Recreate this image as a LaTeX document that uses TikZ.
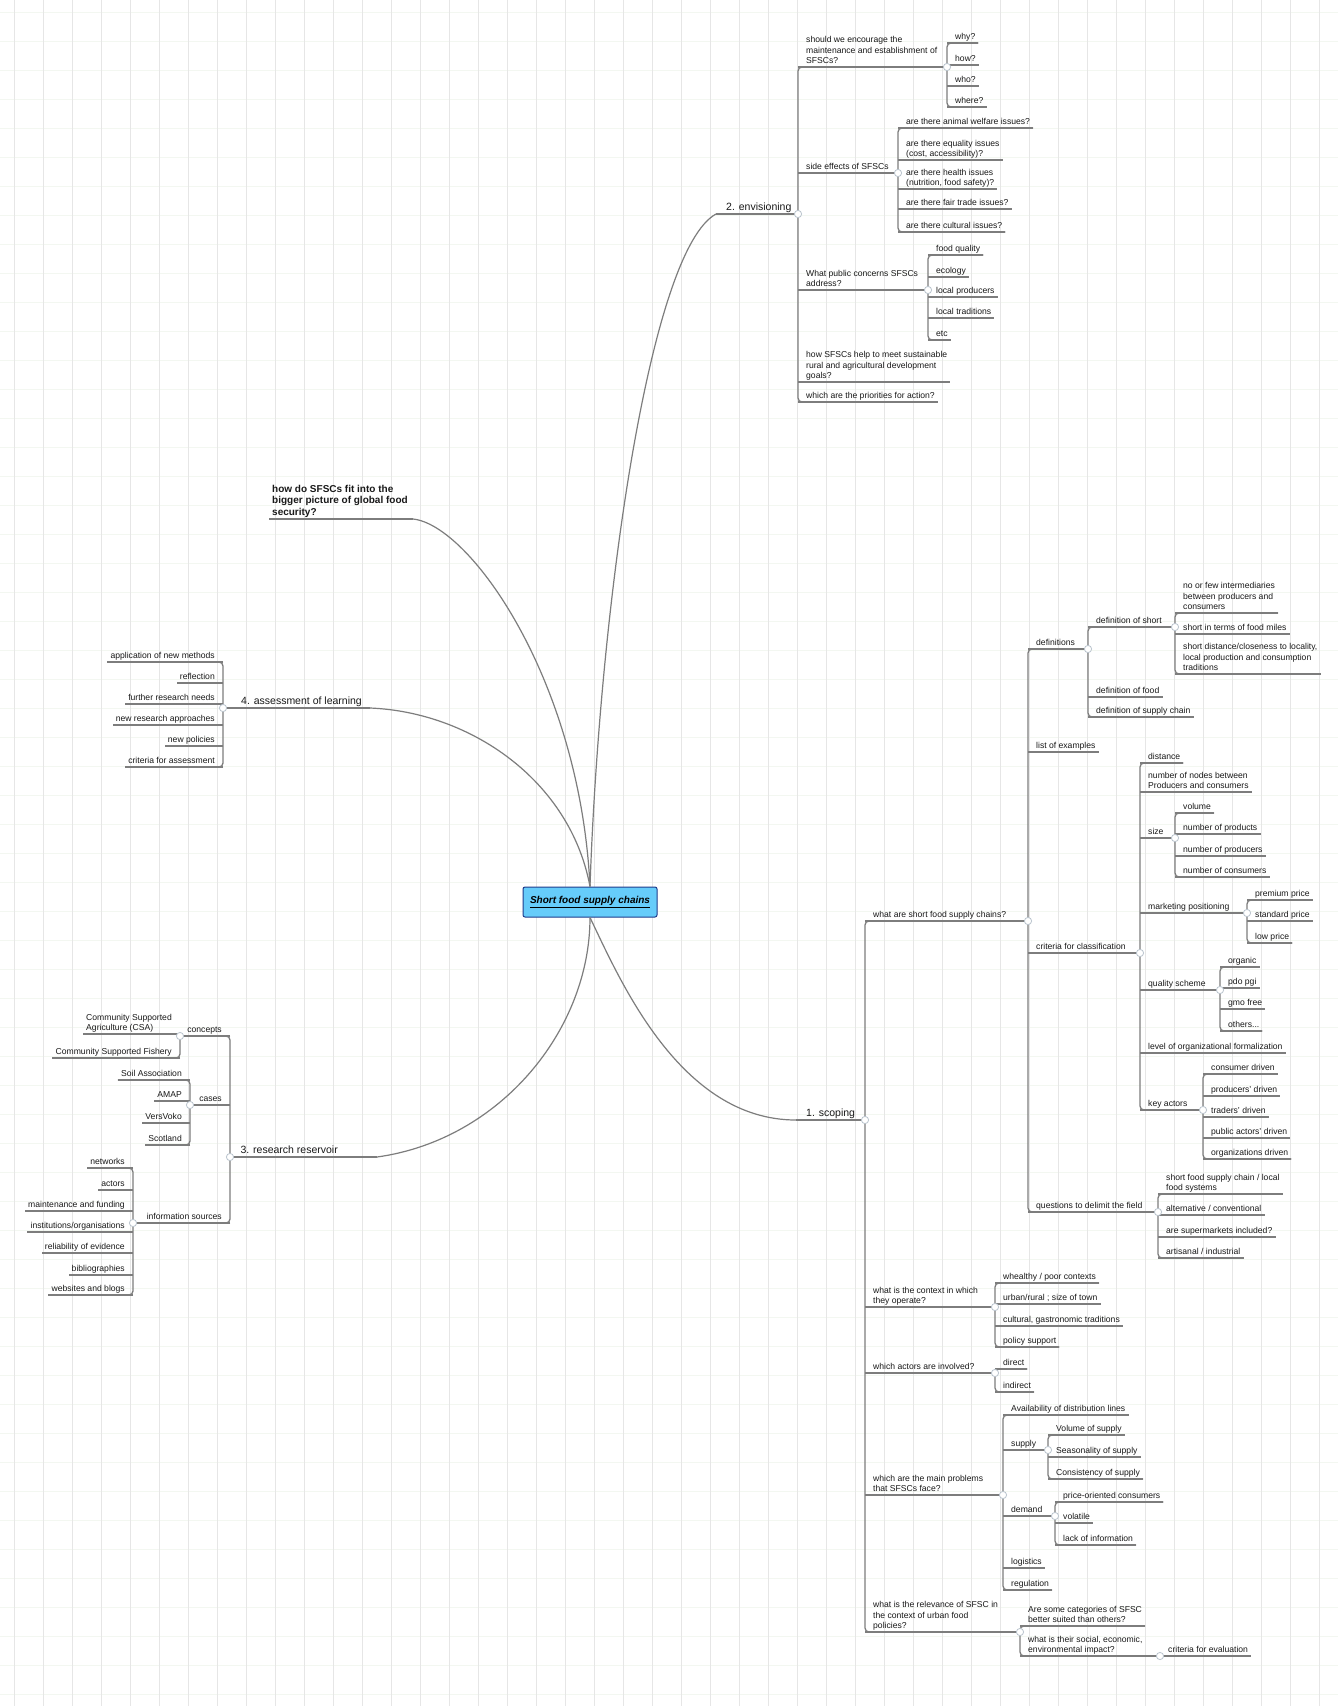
\documentclass[tikz,border=0pt]{standalone}
\usepackage{fontspec}
\setmainfont{Liberation Sans}
\definecolor{ln}{RGB}{125,125,125}
\definecolor{gridv}{RGB}{230,230,230}
\definecolor{gridh}{RGB}{243,247,241}
\definecolor{rootfill}{RGB}{102,204,250}
\definecolor{rootdraw}{RGB}{30,60,140}
\definecolor{mkc}{RGB}{185,195,205}
\tikzset{
 tx/.style={inner xsep=3pt, inner ysep=1pt, text depth=2.2pt, font=\fontsize{8.6}{10.4}\selectfont, text=black!90},
 rt/.style={tx, anchor=south west, xshift=5pt, align=left},
 lt/.style={tx, anchor=south east, xshift=-5pt, align=right},
 mainr/.style={anchor=south west, inner xsep=3pt, inner ysep=1pt, text depth=2.6pt, font=\fontsize{10.5}{12.5}\selectfont, text=black!90},
 mainl/.style={mainr, anchor=south east},
 bigq/.style={anchor=south west, inner xsep=3pt, inner ysep=1pt, text depth=2.6pt, align=left, font=\fontsize{10}{11.6}\selectfont\bfseries, text=black!90},
 ul/.style={draw=ln, line width=1.3pt},
 mc/.style={draw=ln, line width=1.2pt},
 mk/.style={draw=mkc, fill=white, line width=0.8pt},
 vgrid/.style={draw=gridv, line width=0.8pt},
 hgrid/.style={draw=gridh, line width=0.8pt},
 rootbox/.style={draw=rootdraw, fill=rootfill, rounded corners=2pt, line width=1pt, minimum width=134pt, minimum height=30pt, font=\fontsize{10}{12}\selectfont\bfseries\itshape, text=black}
}
\newcommand\RN[4]{\node[rt] (#1) at (#2,#3) {#4}; \coordinate (#1-a) at (#2,#3);}
\newcommand\LN[4]{\node[lt] (#1) at (#2,#3) {#4}; \coordinate (#1-a) at (#2,#3);}
\newcommand\famR[5]{%
  \coordinate (#1-tx) at (#2,0);
  \coordinate (#1-r) at (#1-a -| #1-tx);
  \draw[ul] (#1-a) -- (#1-r);
  \draw[ul,rounded corners=4pt] (#3.south east) -- (#3-a) -- (#4-a) -- (#4.south east);
  \foreach \ch in {#5}{\draw[ul] (\ch-a) -- (\ch.south east);}
  \draw[mk] (#1-r) circle[radius=3.6];
}
\newcommand\famL[5]{%
  \coordinate (#1-tx) at (#2,0);
  \coordinate (#1-r) at (#1-a -| #1-tx);
  \draw[ul] (#1-a) -- (#1-r);
  \draw[ul,rounded corners=4pt] (#3.south west) -- (#3-a) -- (#4-a) -- (#4.south west);
  \foreach \ch in {#5}{\draw[ul] (\ch-a) -- (\ch.south west);}
  \draw[mk] (#1-r) circle[radius=3.6];
}
\begin{document}
\begin{tikzpicture}[x=1pt,y=-1pt]
\useasboundingbox (0,0) rectangle (1338,1706);
\fill[white] (0,0) rectangle (1338,1706);
\foreach \i in {0,...,58} {\draw[hgrid] (0,{12+29*\i}) -- (1338,{12+29*\i});}
\foreach \i in {0,...,46} {\draw[vgrid] ({14+29*\i},0) -- ({14+29*\i},1706);}

% root
\node[rootbox] (root) at (590,902) {\underline{Short food supply chains}};

% main topics
\node[mainr] (env) at (723,214) {2. envisioning}; \coordinate (env-a) at (716,214);
\node[mainr] (scp) at (803,1120) {1. scoping}; \coordinate (scp-a) at (796,1120);
\node[mainl] (ass) at (365,708) {4. assessment of learning}; \coordinate (ass-a) at (370,708);
\node[mainl] (res) at (341,1157) {3. research reservoir}; \coordinate (res-a) at (377,1157);
\node[bigq] (big) at (269,519) {how do SFSCs fit into the\\bigger picture of global food\\security?}; \coordinate (big-a) at (413,519);
\draw[ul] (big-a) -- (big.south west);

\draw[mc] (root.north) .. controls (600,600) and (650,250) .. (env-a);
\draw[mc] (root.north) .. controls (580,680) and (470,525) .. (big-a);
\draw[mc] (root.north) .. controls (570,780) and (470,712) .. (ass-a);
\draw[mc] (root.south) .. controls (590,1030) and (500,1140) .. (res-a);
\draw[mc] (root.south) .. controls (620,980) and (680,1120) .. (scp-a);

% envisioning
\RN{enc}{798}{67}{should we encourage the\\maintenance and establishment of\\SFSCs?}
\RN{why}{947}{43}{why?}
\RN{hw}{947}{65}{how?}
\RN{who}{947}{86}{who?}
\RN{whr}{947}{107}{where?}
\RN{side}{798}{173}{side effects of SFSCs}
\RN{aw}{898}{128}{are there animal welfare issues?}
\RN{eq}{898}{160}{are there equality issues\\(cost, accessibility)?}
\RN{hl}{898}{189}{are there health issues\\(nutrition, food safety)?}
\RN{ft}{898}{209}{are there fair trade issues?}
\RN{cu}{898}{232}{are there cultural issues?}
\RN{pub}{798}{290}{What public concerns SFSCs\\address?}
\RN{fq}{928}{255}{food quality}
\RN{eco}{928}{277}{ecology}
\RN{lp}{928}{297}{local producers}
\RN{ltr}{928}{318}{local traditions}
\RN{etc}{928}{340}{etc}
\RN{sus}{798}{382}{how SFSCs help to meet sustainable\\rural and agricultural development\\goals?}
\RN{pri}{798}{402}{which are the priorities for action?}

% scoping
\RN{wsf}{865}{921}{what are short food supply chains?}
\RN{defs}{1028}{649}{definitions}
\RN{dshort}{1088}{627}{definition of short}
\RN{dsa}{1175}{613}{no or few intermediaries\\between producers and\\consumers}
\RN{dsb}{1175}{634}{short in terms of food miles}
\RN{dsc}{1175}{674}{short distance/closeness to locality,\\local production and consumption\\traditions}
\RN{dfood}{1088}{697}{definition of food}
\RN{dsup}{1088}{717}{definition of supply chain}
\RN{loe}{1028}{752}{list of examples}
\RN{crit}{1028}{953}{criteria for classification}
\RN{dist}{1140}{763}{distance}
\RN{nnod}{1140}{792}{number of nodes between\\Producers and consumers}
\RN{size}{1140}{838}{size}
\RN{vol}{1175}{813}{volume}
\RN{nprod}{1175}{834}{number of products}
\RN{nprc}{1175}{856}{number of producers}
\RN{ncon}{1175}{877}{number of consumers}
\RN{mkt}{1140}{913}{marketing positioning}
\RN{prem}{1247}{900}{premium price}
\RN{std}{1247}{921}{standard price}
\RN{low}{1247}{943}{low price}
\RN{qual}{1140}{990}{quality scheme}
\RN{org}{1220}{967}{organic}
\RN{pdo}{1220}{988}{pdo pgi}
\RN{gmo}{1220}{1009}{gmo free}
\RN{oth}{1220}{1031}{others...}
\RN{lvl}{1140}{1053}{level of organizational formalization}
\RN{key}{1140}{1110}{key actors}
\RN{cdr}{1203}{1074}{consumer driven}
\RN{pdr}{1203}{1096}{producers' driven}
\RN{tdr}{1203}{1117}{traders' driven}
\RN{pad}{1203}{1138}{public actors' driven}
\RN{odr}{1203}{1159}{organizations driven}
\RN{qdf}{1028}{1212}{questions to delimit the field}
\RN{qa}{1158}{1194}{short food supply chain / local\\food systems}
\RN{qb}{1158}{1215}{alternative / conventional}
\RN{qc}{1158}{1237}{are supermarkets included?}
\RN{qd}{1158}{1258}{artisanal / industrial}
\RN{ctx}{865}{1307}{what is the context in which\\they operate?}
\RN{wp}{995}{1283}{whealthy / poor contexts}
\RN{ur}{995}{1304}{urban/rural ; size of town}
\RN{cg}{995}{1326}{cultural, gastronomic traditions}
\RN{ps}{995}{1347}{policy support}
\RN{act}{865}{1373}{which actors are involved?}
\RN{dir}{995}{1369}{direct}
\RN{ind}{995}{1392}{indirect}
\RN{prob}{865}{1495}{which are the main problems\\that SFSCs face?}
\RN{avl}{1003}{1415}{Availability of distribution lines}
\RN{sup}{1003}{1450}{supply}
\RN{vs}{1048}{1435}{Volume of supply}
\RN{ss}{1048}{1457}{Seasonality of supply}
\RN{cs}{1048}{1479}{Consistency of supply}
\RN{dem}{1003}{1516}{demand}
\RN{poc}{1055}{1502}{price-oriented consumers}
\RN{vlt}{1055}{1523}{volatile}
\RN{loi}{1055}{1545}{lack of information}
\RN{logi}{1003}{1568}{logistics}
\RN{regu}{1003}{1590}{regulation}
\RN{rel}{865}{1632}{what is the relevance of SFSC in\\the context of urban food\\policies?}
\RN{cat}{1020}{1626}{Are some categories of SFSC\\better suited than others?}
\RN{imp}{1020}{1656}{what is their social, economic,\\environmental impact?}
\RN{cfe}{1160}{1656}{criteria for evaluation}

% assessment
\LN{aa}{223}{662}{application of new methods}
\LN{ab}{223}{683}{reflection}
\LN{ac}{223}{704}{further research needs}
\LN{ad}{223}{725}{new research approaches}
\LN{ae}{223}{746}{new policies}
\LN{af}{223}{767}{criteria for assessment}

% research reservoir
\LN{conc}{230}{1036}{concepts}
\node[lt,align=left] (csa) at (180,1034) {Community Supported\\Agriculture (CSA)}; \coordinate (csa-a) at (180,1034);
\LN{csf}{180}{1058}{Community Supported Fishery}
\LN{cases}{230}{1105}{cases}
\LN{soil}{190}{1080}{Soil Association}
\LN{amap}{190}{1101}{AMAP}
\LN{vv}{190}{1123}{VersVoko}
\LN{scot}{190}{1145}{Scotland}
\LN{info}{230}{1223}{information sources}
\LN{ia}{133}{1168}{networks}
\LN{ib}{133}{1190}{actors}
\LN{ic}{133}{1211}{maintenance and funding}
\LN{idd}{133}{1232}{institutions/organisations}
\LN{ie}{133}{1253}{reliability of evidence}
\LN{ibib}{133}{1275}{bibliographies}
\LN{iw}{133}{1295}{websites and blogs}

% families
\famR{env}{798}{enc}{pri}{enc,side,pub,sus,pri}
\famR{enc}{947}{why}{whr}{why,hw,who,whr}
\famR{side}{898}{aw}{cu}{aw,eq,hl,ft,cu}
\famR{pub}{928}{fq}{etc}{fq,eco,lp,ltr,etc}

\famR{scp}{865}{wsf}{rel}{wsf,ctx,act,prob,rel}
\famR{wsf}{1028}{defs}{qdf}{defs,loe,crit,qdf}
\famR{defs}{1088}{dshort}{dsup}{dshort,dfood,dsup}
\famR{dshort}{1175}{dsa}{dsc}{dsa,dsb,dsc}
\famR{crit}{1140}{dist}{key}{dist,nnod,size,mkt,qual,lvl,key}
\famR{size}{1175}{vol}{ncon}{vol,nprod,nprc,ncon}
\famR{mkt}{1247}{prem}{low}{prem,std,low}
\famR{qual}{1220}{org}{oth}{org,pdo,gmo,oth}
\famR{key}{1203}{cdr}{odr}{cdr,pdr,tdr,pad,odr}
\famR{qdf}{1158}{qa}{qd}{qa,qb,qc,qd}
\famR{ctx}{995}{wp}{ps}{wp,ur,cg,ps}
\famR{act}{995}{dir}{ind}{dir,ind}
\famR{prob}{1003}{avl}{regu}{avl,sup,dem,logi,regu}
\famR{sup}{1048}{vs}{cs}{vs,ss,cs}
\famR{dem}{1055}{poc}{loi}{poc,vlt,loi}
\famR{rel}{1020}{cat}{imp}{cat,imp}
\coordinate (imp-tx) at (1160,0);
\coordinate (imp-r) at (imp-a -| imp-tx);
\draw[ul] (imp-a) -- (imp-r);
\draw[ul] (cfe-a) -- (cfe.south east);
\draw[mk] (imp-r) circle[radius=3.6];

\famL{ass}{223}{aa}{af}{aa,ab,ac,ad,ae,af}
\famL{res}{230}{conc}{info}{conc,cases,info}
\famL{conc}{180}{csa}{csf}{csa,csf}
\famL{cases}{190}{soil}{scot}{soil,amap,vv,scot}
\famL{info}{133}{ia}{iw}{ia,ib,ic,idd,ie,ibib,iw}
\end{tikzpicture}
\end{document}
